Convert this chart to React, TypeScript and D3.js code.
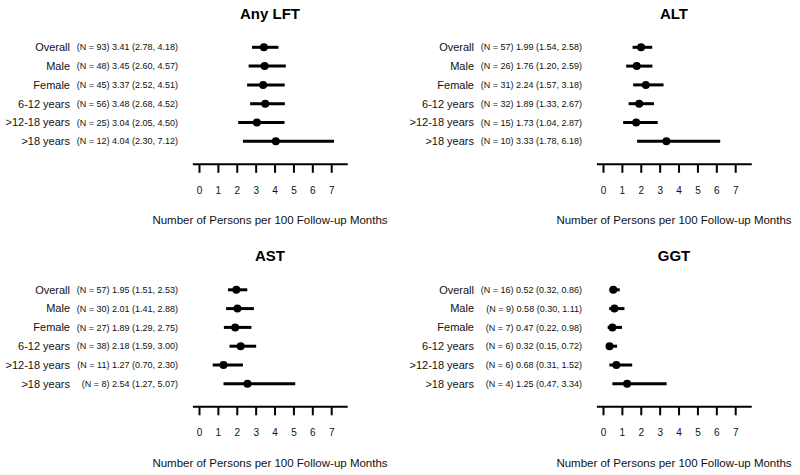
import React, { useEffect, useRef } from "react";
import * as d3 from "d3";

const categories = ["Overall", "Male", "Female", "6-12 years", ">12-18 years", ">18 years"];
const ticks = [0, 1, 2, 3, 4, 5, 6, 7];
const axisTitle = "Number of Persons per 100 Follow-up Months";

const panelTitles = ["Any LFT", "ALT", "AST", "GGT"];

// per panel: N, estimate, lower, upper
const lftN = [93, 48, 45, 56, 25, 12];
const lftEst = [3.41, 3.45, 3.37, 3.48, 3.04, 4.04];
const lftLo = [2.78, 2.6, 2.52, 2.68, 2.05, 2.3];
const lftHi = [4.18, 4.57, 4.51, 4.52, 4.5, 7.12];

const altN = [57, 26, 31, 32, 15, 10];
const altEst = [1.99, 1.76, 2.24, 1.89, 1.73, 3.33];
const altLo = [1.54, 1.2, 1.57, 1.33, 1.04, 1.78];
const altHi = [2.58, 2.59, 3.18, 2.67, 2.87, 6.18];

const astN = [57, 30, 27, 38, 11, 8];
const astEst = [1.95, 2.01, 1.89, 2.18, 1.27, 2.54];
const astLo = [1.51, 1.41, 1.29, 1.59, 0.7, 1.27];
const astHi = [2.53, 2.88, 2.75, 3.0, 2.3, 5.07];

const ggtN = [16, 9, 7, 6, 6, 4];
const ggtEst = [0.52, 0.58, 0.47, 0.32, 0.68, 1.25];
const ggtLo = [0.32, 0.3, 0.22, 0.15, 0.31, 0.47];
const ggtHi = [0.86, 1.11, 0.98, 0.72, 1.52, 3.34];

const panelData = [
  [lftN, lftEst, lftLo, lftHi],
  [altN, altEst, altLo, altHi],
  [astN, astEst, astLo, astHi],
  [ggtN, ggtEst, ggtLo, ggtHi],
];

const offsets = [
  [0, 0],
  [404, 0],
  [0, 242.5],
  [404, 242.5],
];

const font = "'Liberation Sans', Arial, sans-serif";

export default function App() {
  const ref = useRef<SVGSVGElement>(null);

  useEffect(() => {
    const svg = d3.select(ref.current);
    svg.selectAll("*").remove();

    const x = d3.scaleLinear().domain([0, 7]).range([199.5, 331.7]);
    const y = d3.scalePoint().domain(categories).range([47.3, 141.3]);
    const fmt = d3.format(".2f");

    panelData.forEach(([ns, est, lo, hi], p) => {
      const [ox, oy] = offsets[p];
      const g = svg.append("g").attr("transform", `translate(${ox},${oy})`);

      g.append("text")
        .attr("x", 270)
        .attr("y", 18.5)
        .attr("text-anchor", "middle")
        .attr("font-weight", "bold")
        .attr("font-size", 15)
        .text(panelTitles[p]);

      const rows = categories.map((c, i) => ({
        cat: c,
        n: ns[i],
        est: est[i],
        lo: lo[i],
        hi: hi[i],
      }));

      g.selectAll("text.cat")
        .data(rows)
        .join("text")
        .attr("class", "cat")
        .attr("x", 70)
        .attr("y", (d) => y(d.cat)!)
        .attr("dy", "0.35em")
        .attr("text-anchor", "end")
        .attr("font-size", 11)
        .attr("fill", "#111")
        .text((d) => d.cat);

      g.selectAll("text.stat")
        .data(rows)
        .join("text")
        .attr("class", "stat")
        .attr("x", 178)
        .attr("y", (d) => y(d.cat)!)
        .attr("dy", "0.35em")
        .attr("text-anchor", "end")
        .attr("font-size", 9)
        .attr("fill", "#111")
        .text((d) => `(N = ${d.n}) ${fmt(d.est)} (${fmt(d.lo)}, ${fmt(d.hi)})`);

      g.selectAll("line.ci")
        .data(rows)
        .join("line")
        .attr("class", "ci")
        .attr("x1", (d) => x(d.lo))
        .attr("x2", (d) => x(d.hi))
        .attr("y1", (d) => y(d.cat)!)
        .attr("y2", (d) => y(d.cat)!)
        .attr("stroke", "#000")
        .attr("stroke-width", 3);

      g.selectAll("circle.pt")
        .data(rows)
        .join("circle")
        .attr("class", "pt")
        .attr("cx", (d) => x(d.est))
        .attr("cy", (d) => y(d.cat)!)
        .attr("r", 4)
        .attr("fill", "#000");

      // axis
      const axisY = 164.3;
      g.append("line")
        .attr("x1", x(-0.35))
        .attr("x2", x(7.85))
        .attr("y1", axisY)
        .attr("y2", axisY)
        .attr("stroke", "#000")
        .attr("stroke-width", 2);

      g.selectAll("line.tick")
        .data(ticks)
        .join("line")
        .attr("class", "tick")
        .attr("x1", (d) => x(d))
        .attr("x2", (d) => x(d))
        .attr("y1", axisY)
        .attr("y2", axisY + 8.5)
        .attr("stroke", "#000")
        .attr("stroke-width", 2);

      g.selectAll("text.ticklab")
        .data(ticks)
        .join("text")
        .attr("class", "ticklab")
        .attr("x", (d) => x(d))
        .attr("y", 193.5)
        .attr("text-anchor", "middle")
        .attr("font-size", 10)
        .attr("fill", "#111")
        .text((d) => d);

      g.append("text")
        .attr("x", 270)
        .attr("y", 224)
        .attr("text-anchor", "middle")
        .attr("font-size", 11.5)
        .attr("fill", "#111")
        .text(axisTitle);
    });
  }, []);

  return (
    <div style={{ position: "fixed", left: 0, top: 0 }}>
      <svg
        ref={ref}
        width={800}
        height={475}
        style={{ display: "block", background: "#fff", fontFamily: font }}
      />
    </div>
  );
}
